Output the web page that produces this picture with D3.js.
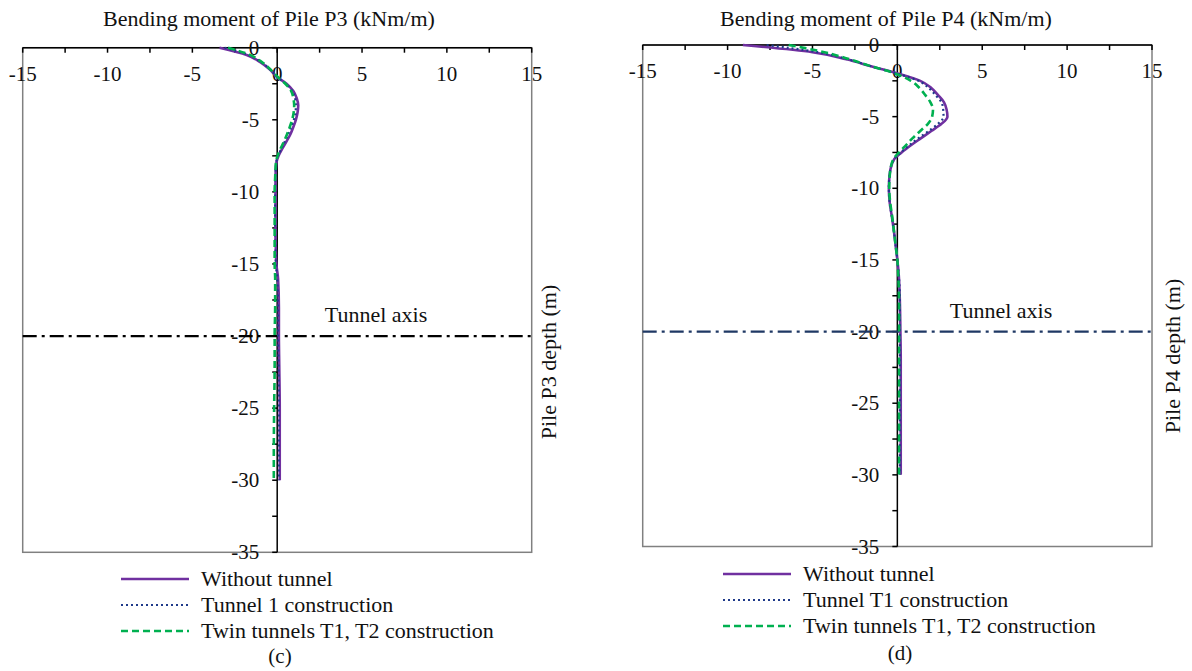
<!DOCTYPE html>
<html>
<head>
<meta charset="utf-8">
<script src="https://cdn.jsdelivr.net/npm/d3@7"></script>
<style>
  body { margin: 0; background: #fff; }
</style>
</head>
<body>
<svg id="chart" width="1192" height="671"></svg>
<script>
// depth along the pile (m)
let depths = [0,-0.5,-1,-1.5,-2,-2.5,-3,-3.5,-4,-4.5,-5,-5.5,-6,-6.5,-7,-7.5,-8,-9,-10,-11,-12,-13,-14,-15,-16,-18,-20,-22,-25,-28,-30];

// pile P3 bending moment (kNm/m)
let p3NoTunnel = [-3.4,-1.8,-1.0,-0.45,-0.05,0.55,0.95,1.15,1.24,1.2,1.1,0.95,0.78,0.55,0.3,0.08,-0.05,-0.1,-0.1,-0.1,-0.1,-0.1,-0.08,-0.05,0.05,0.1,0.1,0.12,0.15,0.15,0.15];
let p3Tunnel1 = [-3.1,-1.7,-0.95,-0.42,-0.02,0.5,0.88,1.05,1.1,1.08,0.98,0.82,0.65,0.45,0.25,0.05,-0.06,-0.1,-0.12,-0.12,-0.12,-0.12,-0.1,-0.08,0.0,0.05,0.05,0.08,0.1,0.1,0.1];
let p3Twin = [-2.9,-1.6,-0.9,-0.4,0.0,0.48,0.82,0.95,1.0,0.97,0.88,0.74,0.58,0.4,0.2,0.02,-0.08,-0.12,-0.15,-0.15,-0.15,-0.15,-0.15,-0.15,-0.12,-0.12,-0.15,-0.15,-0.18,-0.2,-0.2];

// pile P4 bending moment (kNm/m)
let p4NoTunnel = [-9.1,-5.0,-3.0,-1.5,0.05,1.35,2.0,2.4,2.75,2.9,2.95,2.6,2.0,1.4,0.8,0.25,-0.2,-0.45,-0.5,-0.45,-0.32,-0.2,-0.1,0.0,0.08,0.15,0.18,0.2,0.2,0.2,0.2];
let p4Tunnel1 = [-7.7,-4.7,-2.9,-1.5,0.0,1.25,1.85,2.25,2.6,2.7,2.72,2.4,1.85,1.25,0.7,0.2,-0.2,-0.45,-0.5,-0.45,-0.32,-0.2,-0.1,0.0,0.08,0.15,0.15,0.15,0.15,0.15,0.15];
let p4Twin = [-6.4,-4.3,-2.8,-1.5,-0.1,0.8,1.3,1.65,1.95,2.1,2.05,1.8,1.35,0.9,0.5,0.1,-0.25,-0.44,-0.48,-0.42,-0.3,-0.2,-0.1,0.0,0.05,0.1,0.1,0.1,0.1,0.1,0.1];

let xTicks = [-15,-10,-5,0,5,10,15];
let yTicks = [0,-5,-10,-15,-20,-25,-30,-35];
let tunnelAxisDepth = -20;

let svg = d3.select("#chart");
let serif = "'Liberation Serif', 'Times New Roman', serif";

let panels = [
  {
    title: "Bending moment of Pile P3 (kNm/m)", yTitle: "Pile P3 depth (m)",
    legend: ["Without tunnel", "Tunnel 1 construction", "Twin tunnels T1, T2 construction"],
    tag: "(c)", series: [p3NoTunnel, p3Tunnel1, p3Twin],
    left: 22.7, right: 531.7, top: 47.7, bottom: 552.3,
    titleX: 269, axisColor: "#000", tunnelLabelX: 376,
    yTitleX: 556, yTitleY: 362,
    legendX: 121, legendY: 579, tagX: 280, tagY: 663
  },
  {
    title: "Bending moment of Pile P4 (kNm/m)", yTitle: "Pile P4 depth (m)",
    legend: ["Without tunnel", "Tunnel T1 construction", "Twin tunnels T1, T2 construction"],
    tag: "(d)", series: [p4NoTunnel, p4Tunnel1, p4Twin],
    left: 642.7, right: 1152, top: 45, bottom: 546.5,
    titleX: 886, axisColor: "#1f3864", tunnelLabelX: 1001,
    yTitleX: 1180, yTitleY: 356,
    legendX: 723, legendY: 574, tagX: 900, tagY: 660
  }
];

let styles = [
  {color: "#7030a0", width: 2.6, dash: null},
  {color: "#1f3a8a", width: 2.2, dash: "2,3"},
  {color: "#00b050", width: 2.6, dash: "7,4"}
];

function label(g, x, y, str, size, anchor) {
  return g.append("text")
    .attr("x", x).attr("y", y)
    .attr("text-anchor", anchor)
    .style("font-family", serif)
    .attr("font-size", size)
    .attr("fill", "#111")
    .text(str);
}

panels.forEach(p => {
  let g = svg.append("g");

  let x = d3.scaleLinear().domain([-15, 15]).range([p.left, p.right]);
  let y = d3.scaleLinear().domain([0, -35]).range([p.top, p.bottom]);

  // frame
  g.append("rect")
    .attr("x", p.left).attr("y", p.top)
    .attr("width", p.right - p.left).attr("height", p.bottom - p.top)
    .attr("fill", "none").attr("stroke", "#808080").attr("stroke-width", 1.5);

  // top x axis with ticks every 2.5
  g.append("line")
    .attr("x1", p.left).attr("x2", p.right)
    .attr("y1", p.top).attr("y2", p.top)
    .attr("stroke", "#000").attr("stroke-width", 1.5);
  d3.range(-15, 15.1, 2.5).forEach(t => {
    g.append("line")
      .attr("x1", x(t)).attr("x2", x(t))
      .attr("y1", p.top).attr("y2", p.top + 5)
      .attr("stroke", "#000").attr("stroke-width", 1.5);
  });
  xTicks.forEach(t => label(g, x(t), p.top + 33, t, 21, "middle"));

  // depth axis through zero moment
  g.append("line")
    .attr("x1", x(0)).attr("x2", x(0))
    .attr("y1", y(0)).attr("y2", y(-35))
    .attr("stroke", "#000").attr("stroke-width", 1.5);
  d3.range(0, -35.1, -2.5).forEach(t => {
    g.append("line")
      .attr("x1", x(0) - 5).attr("x2", x(0))
      .attr("y1", y(t)).attr("y2", y(t))
      .attr("stroke", "#000").attr("stroke-width", 1.5);
  });
  yTicks.forEach(t => label(g, x(0) - 18, y(t) + 7, t, 21, "end"));

  // tunnel axis
  g.append("line")
    .attr("x1", p.left).attr("x2", p.right)
    .attr("y1", y(tunnelAxisDepth)).attr("y2", y(tunnelAxisDepth))
    .attr("stroke", p.axisColor).attr("stroke-width", 2.2)
    .attr("stroke-dasharray", "14,5,3,5");
  label(g, p.tunnelLabelX, y(tunnelAxisDepth) - 14, "Tunnel axis", 22, "middle");

  // titles
  label(g, p.titleX, 26, p.title, 22, "middle");
  label(g, 0, 0, p.yTitle, 22, "middle")
    .attr("transform", `translate(${p.yTitleX},${p.yTitleY}) rotate(-90)`);

  // moment curves
  let line = d3.line()
    .x(d => x(d[0]))
    .y(d => y(d[1]))
    .curve(d3.curveMonotoneY);

  p.series.forEach((vals, i) => {
    let pts = vals.map((v, j) => [v, depths[j]]);
    g.append("path")
      .datum(pts)
      .attr("d", line)
      .attr("fill", "none")
      .attr("stroke", styles[i].color)
      .attr("stroke-width", styles[i].width)
      .attr("stroke-dasharray", styles[i].dash);
  });

  // legend
  p.legend.forEach((name, i) => {
    let ly = p.legendY + i * 26;
    g.append("line")
      .attr("x1", p.legendX).attr("x2", p.legendX + 68)
      .attr("y1", ly).attr("y2", ly)
      .attr("stroke", styles[i].color)
      .attr("stroke-width", styles[i].width)
      .attr("stroke-dasharray", styles[i].dash);
    label(g, p.legendX + 80, ly + 7, name, 22, "start");
  });

  label(g, p.tagX, p.tagY, p.tag, 21, "middle");
});
</script>
</body>
</html>
